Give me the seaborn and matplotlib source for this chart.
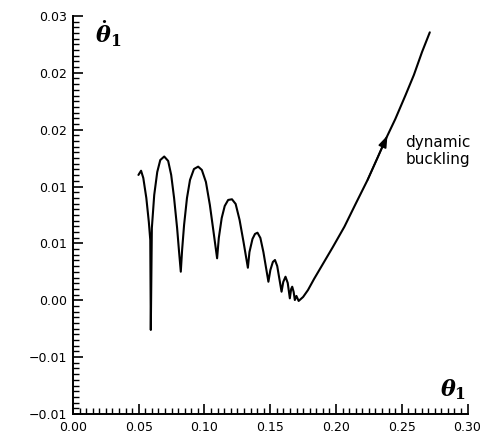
import matplotlib
matplotlib.use("Agg")
import matplotlib.pyplot as plt
from matplotlib.ticker import MultipleLocator, FixedLocator, FixedFormatter
import seaborn as sns
import pandas as pd

theta1 = [0.0498, 0.0518, 0.0535, 0.0558, 0.0577, 0.0588, 0.0592, 0.0600,
          0.0618, 0.0641, 0.0664, 0.0694, 0.0724, 0.0747, 0.0769, 0.0792,
          0.0807, 0.0820, 0.0830, 0.0845, 0.0867, 0.0890, 0.0920, 0.0952,
          0.0980, 0.1011, 0.1041, 0.1067, 0.1096, 0.1109, 0.1131, 0.1154,
          0.1180, 0.1209, 0.1237, 0.1267, 0.1297, 0.1330, 0.1342, 0.1365,
          0.1384, 0.1403, 0.1425, 0.1448, 0.1486, 0.1501, 0.1520, 0.1536,
          0.1553, 0.1586, 0.1599, 0.1616, 0.1633, 0.1649, 0.1659, 0.1667,
          0.1678, 0.1687, 0.1699, 0.1716, 0.1750, 0.1787, 0.1833, 0.1888,
          0.1976, 0.2064, 0.2149, 0.2240, 0.2315, 0.2375, 0.2451, 0.2529,
          0.2592, 0.2654, 0.2713]
theta1_dot = [0.01102, 0.01139, 0.01075, 0.00899, 0.00688, 0.00530, -0.00261, 0.00635,
              0.00926, 0.01128, 0.01233, 0.01264, 0.01225, 0.01102, 0.00899, 0.00635,
              0.00424, 0.00251, 0.00442, 0.00662, 0.00899, 0.01058, 0.01154, 0.01175,
              0.01146, 0.01040, 0.00838, 0.00618, 0.00369, 0.00548, 0.00723, 0.00829,
              0.00882, 0.00888, 0.00847, 0.00706, 0.00512, 0.00286, 0.00424, 0.00539,
              0.00583, 0.00594, 0.00548, 0.00424, 0.00163, 0.00266, 0.00337, 0.00354,
              0.00301, 0.00075, 0.00161, 0.00207, 0.00152, 0.00017, 0.00099, 0.00119,
              0.00073, 0.00002, 0.00038, -0.00006, 0.00029, 0.00090, 0.00187, 0.00295,
              0.00468, 0.00647, 0.00847, 0.01058, 0.01251, 0.01409, 0.01594, 0.01805,
              0.01981, 0.02183, 0.02356]

x_ticks = [0.00, 0.05, 0.10, 0.15, 0.20, 0.25, 0.30]
x_tick_labels = ["0.00", "0.05", "0.10", "0.15", "0.20", "0.25", "0.30"]
y_ticks = [-0.010, -0.005, 0.000, 0.005, 0.010, 0.015, 0.020, 0.025]
y_tick_labels = ["\u22120.01", "\u22120.01", "0.00", "0.01", "0.01", "0.02", "0.02", "0.03"]
arrow_index = 69

df = pd.DataFrame({"theta1": theta1, "theta1_dot": theta1_dot})

sns.set_style("ticks")
plt.rcParams["font.family"] = ["DejaVu Sans"]
plt.rcParams["text.color"] = "black"
plt.rcParams["mathtext.fontset"] = "custom"
plt.rcParams["mathtext.it"] = "DejaVu Serif:italic:bold"
plt.rcParams["mathtext.rm"] = "DejaVu Serif:bold"
plt.rcParams["mathtext.bf"] = "DejaVu Serif:bold"

fig = plt.figure(figsize=(4.83, 4.43), dpi=100)
ax = fig.add_axes([0.151, 0.0655, 0.817, 0.8985])

sns.lineplot(data=df, x="theta1", y="theta1_dot", sort=False, estimator=None,
             color="black", linewidth=1.5, ax=ax)

ax.annotate("", xy=(theta1[arrow_index] + 0.0016, theta1_dot[arrow_index] + 0.0004),
            xytext=(theta1[arrow_index - 2], theta1_dot[arrow_index - 2]),
            arrowprops=dict(arrowstyle="-|>,head_length=0.7,head_width=0.25",
                            color="black", lw=1.2, shrinkA=0, shrinkB=0))

ax.set_xlim(0.0, 0.30)
ax.set_ylim(-0.010, 0.025)
ax.xaxis.set_major_locator(FixedLocator(x_ticks))
ax.xaxis.set_major_formatter(FixedFormatter(x_tick_labels))
ax.yaxis.set_major_locator(FixedLocator(y_ticks))
ax.yaxis.set_major_formatter(FixedFormatter(y_tick_labels))
ax.xaxis.set_minor_locator(MultipleLocator(0.005))
ax.yaxis.set_minor_locator(MultipleLocator(0.0005))
ax.tick_params(which="major", direction="in", length=7, width=1.2,
               labelsize=9, colors="black", labelcolor="black")
ax.tick_params(axis="x", which="major", pad=5)
ax.tick_params(axis="y", which="major", pad=4)
ax.tick_params(which="minor", direction="in", length=4, width=1.0, colors="black")
for lab in ax.get_xticklabels() + ax.get_yticklabels():
    lab.set_fontweight("medium")

for side in ["top", "right"]:
    ax.spines[side].set_visible(False)
for side in ["left", "bottom"]:
    ax.spines[side].set_linewidth(1.4)
    ax.spines[side].set_color("black")

ax.set_xlabel("")
ax.set_ylabel("")

ax.text(0.055, 0.955, r"$\dot{\theta}_\mathrm{1}$", transform=ax.transAxes,
        fontsize=16, ha="left", va="center", color="black")
ax.text(0.93, 0.06, r"$\theta_\mathrm{1}$", transform=ax.transAxes,
        fontsize=16, ha="left", va="center", color="black")
ax.text(0.842, 0.66, "dynamic\nbuckling", transform=ax.transAxes,
        fontsize=11, ha="left", va="center", linespacing=1.2, color="black")

fig.savefig("out.png", dpi=100)
